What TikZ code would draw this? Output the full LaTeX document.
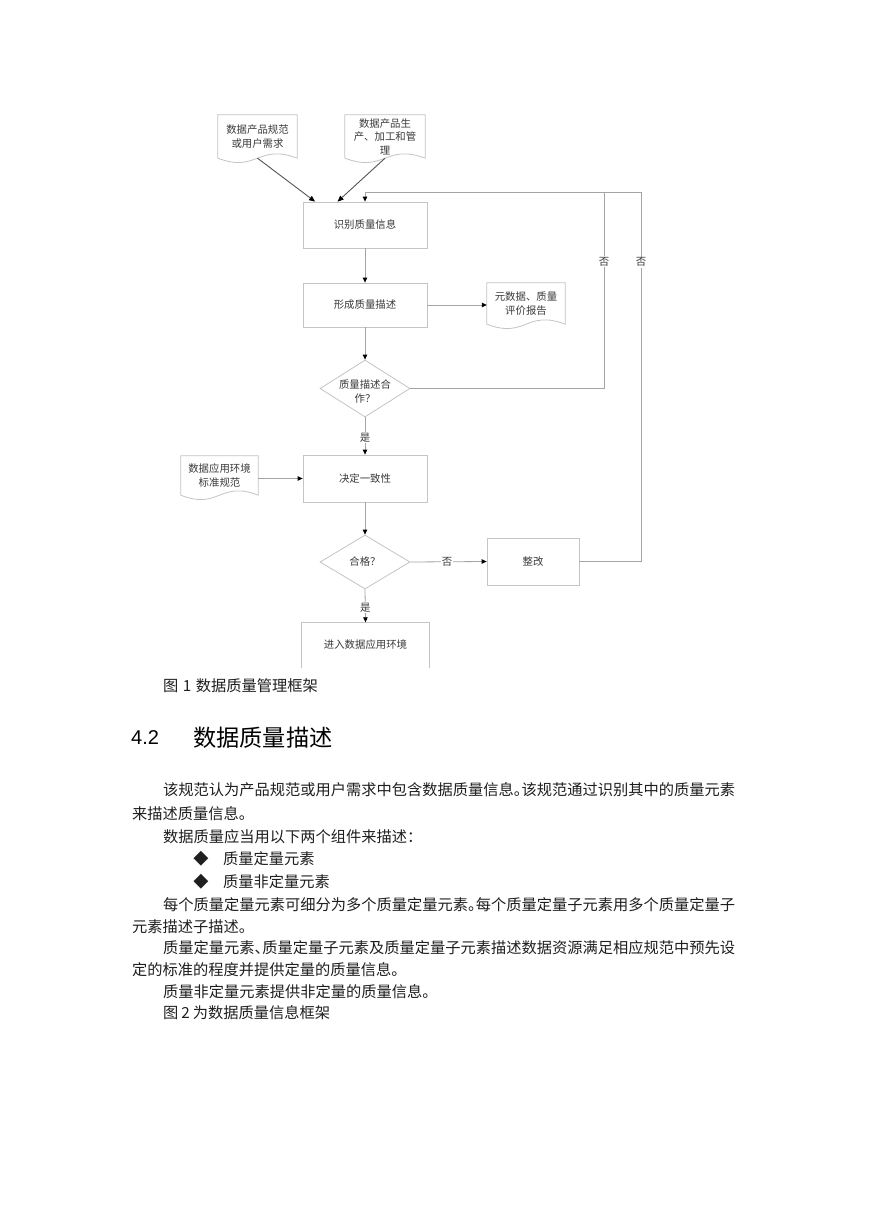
\documentclass[tikz,border=0pt]{standalone}
\usepackage{fontspec}
\setmainfont{Noto Sans CJK SC}
\newfontfamily\cjk{Noto Sans CJK SC}
\newfontfamily\arialf{Liberation Sans}
\usetikzlibrary{arrows.meta,shapes.geometric,calc}
\definecolor{boxc}{HTML}{C4C4C4}
\definecolor{linec}{HTML}{A4A4A4}
\definecolor{darkline}{HTML}{555555}
\definecolor{ftext}{HTML}{3A3A3A}
\tikzset{
  fc/.style={font=\cjk\fontsize{10.4}{13.5}\selectfont, text=ftext, align=center, inner sep=0pt},
  proc/.style={fc, draw=boxc, line width=0.8pt, rectangle},
  docn/.style={fc, rectangle},
  docline/.style={draw=boxc, line width=0.8pt},
  conn/.style={draw=linec, line width=0.8pt},
  arr/.style={conn, -{Triangle[length=5pt,width=4.5pt,color=black]}},
  darr/.style={draw=darkline, line width=0.9pt, -{Triangle[length=6pt,width=5pt,color=black]}},
  lab/.style={fc, fill=white, inner sep=1pt},
  dia/.style={diamond, draw=boxc, line width=0.8pt, inner sep=0pt},
  body/.style={font=\cjk\fontsize{15.25}{18}\selectfont, anchor=west, inner sep=0pt, text=black!88},
}
\newcommand{\docpath}[1]{\draw[docline] (#1.south west) -- (#1.north west) -- (#1.north east) -- (#1.south east) .. controls ($(#1.south)+(0,-15)$) and ($(#1.south)+(0,15)$) .. (#1.south west);}
\newcommand{\hp}[1]{\makebox[0.5em][l]{#1}}
\begin{document}
\begin{tikzpicture}[x=1pt,y=-1pt]
\useasboundingbox (0,0) rectangle (869,1228);
\fill[white] (0,0) rectangle (869,1228);

% documents
\node[docn, minimum width=79pt, minimum height=43pt] (d1) at (257.5,136.5) {数据产品规范\\或用户需求};
\node[docn, minimum width=80pt, minimum height=43pt] (d2) at (385,136.5) {数据产品生\\产、加工和管\\理};
\node[docn, minimum width=78pt, minimum height=41pt] (d3) at (526,303.5) {元数据、质量\\评价报告};
\node[docn, minimum width=77pt, minimum height=39pt] (d4) at (219.5,475.5) {数据应用环境\\标准规范};
\docpath{d1}
\docpath{d2}
\docpath{d3}
\docpath{d4}

% process boxes
\node[proc, minimum width=124pt, minimum height=46pt] (b1) at (365,225) {识别质量信息};
\node[proc, minimum width=124pt, minimum height=44pt] (b2) at (365,305) {形成质量描述};
\node[proc, minimum width=124pt, minimum height=47pt] (b3) at (365,478.5) {决定一致性};
\node[proc, minimum width=92pt, minimum height=47pt] (fix) at (533,561.5) {整改};
\node[fc, minimum width=127pt, minimum height=45pt] (b5) at (365.5,645) {进入数据应用环境};
\draw[docline] (b5.south west) -- (b5.north west) -- (b5.north east) -- (b5.south east);

% decisions
\node[dia, minimum width=90pt, minimum height=57pt] (q1) at (365,388.5) {};
\node[fc] (q1t) at ($(q1.center)+(0,3)$) {质量描述合\\作？};
\node[dia, minimum width=90pt, minimum height=54pt] (q2) at (365,562) {};
\node[fc] (q2t) at (q2.center) {合格？};

% coordinates of feedback loops
\coordinate (c1) at (604,192);
\coordinate (c2) at (641,192);
\coordinate (c3) at (365,192);

% connectors
\draw[darr] (d1.south) -- ($(b1.north west)!0.1!(b1.north east)$);
\draw[darr] (d2.south) -- ($(b1.north west)!0.28!(b1.north east)$);
\draw[arr] (c3) -- (b1.north);
\draw[arr] (b1.south) -- (b2.north);
\draw[arr] (b2.east) -- (b2.east -| d3.west);
\draw[arr] (b2.south) -- (q1.north);
\draw[arr] (q1.south) -- node[lab, pos=0.55] (y1) {是} (b3.north);
\draw[arr] (b3.west -| d4.east) -- (b3.west);
\draw[arr] (b3.south) -- (q2.north);
\draw[arr] (q2.east) -- node[lab, pos=0.48] (n3) {否} (fix.west);
\draw[arr] (q2.south) -- node[lab, pos=0.55] (y2) {是} (b5.north);
\draw[conn] (q1.east) -- (q1.east -| c1) -- node[lab, pos=0.644] (n1) {否} (c1) -- (c3);
\draw[conn] (fix.east) -- (fix.east -| c2) -- node[lab, pos=0.81] (n2) {否} (c2) -- (c1);

% caption and heading
\node[body] (cap1) at (163,686) {图\hspace{4.5pt}1\hspace{4.5pt}数据质量管理框架};
\node[anchor=west, inner sep=0pt, font=\arialf\fontsize{20}{24}\selectfont] (hnum) at (131,738) {4.2};
\node[anchor=west, inner sep=0pt, font=\cjk\fontsize{23.2}{28}\selectfont] (htxt) at (193,738) {数据质量描述};

% body text
\node[body] (t1) at (163,790) {该规范认为产品规范或用户需求中包含数据质量信息\hp{。}该规范通过识别其中的质量元素};
\node[body] (t2) at (132,814) {来描述质量信息。};
\node[body] (t3) at (163,837) {数据质量应当用以下两个组件来描述：};
\node[body, anchor=center] (bu1) at (201,859) {◆};
\node[body] (t4) at (223,859) {质量定量元素};
\node[body, anchor=center] (bu2) at (201,882) {◆};
\node[body] (t5) at (223,882) {质量非定量元素};
\node[body] (t6) at (163,905) {每个质量定量元素可细分为多个质量定量元素\hp{。}每个质量定量子元素用多个质量定量子};
\node[body] (t7) at (132,927) {元素描述子描述。};
\node[body] (t8) at (163,948) {质量定量元素\hp{、}质量定量子元素及质量定量子元素描述数据资源满足相应规范中预先设};
\node[body] (t9) at (132,970) {定的标准的程度并提供定量的质量信息。};
\node[body] (t10) at (163,992) {质量非定量元素提供非定量的质量信息。};
\node[body] (t11) at (163,1013) {图\hspace{3pt}2\hspace{3pt}为数据质量信息框架};
\end{tikzpicture}
\end{document}
